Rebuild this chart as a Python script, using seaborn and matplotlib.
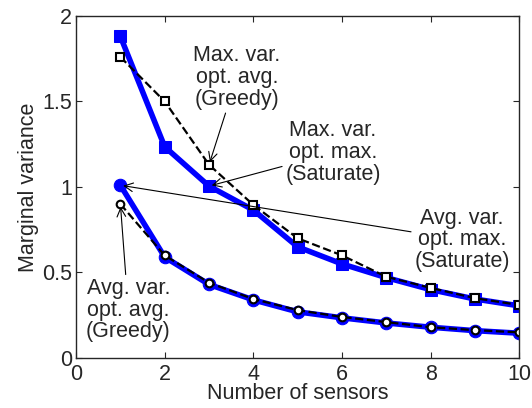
import numpy as np
import pandas as pd
import matplotlib
matplotlib.use('Agg')
import matplotlib.pyplot as plt
import seaborn as sns

# data
sensors = [1, 2, 3, 4, 5, 6, 7, 8, 9, 10]
max_sat = [1.88, 1.235, 1.005, 0.865, 0.65, 0.55, 0.47, 0.40, 0.345, 0.305]
max_greedy = [1.76, 1.50, 1.13, 0.895, 0.70, 0.60, 0.475, 0.41, 0.35, 0.31]
avg_sat = [1.01, 0.59, 0.43, 0.34, 0.27, 0.235, 0.205, 0.18, 0.16, 0.145]
avg_greedy = [0.90, 0.60, 0.44, 0.345, 0.28, 0.24, 0.21, 0.18, 0.163, 0.15]

sns.set_style('ticks')
plt.rcParams['font.family'] = ['Liberation Sans', 'DejaVu Sans']
plt.rcParams['xtick.direction'] = 'in'
plt.rcParams['ytick.direction'] = 'in'

fs = 15.5
fig = plt.figure(figsize=(5.32, 4.08), dpi=100)
ax = fig.add_axes([0.143, 0.1225, 0.833, 0.8385])

blue = (0, 0, 1)
sns.lineplot(x=sensors, y=max_sat, ax=ax, color=blue, linewidth=4, marker='s',
             markersize=9, markeredgecolor=blue, markerfacecolor=blue)
sns.lineplot(x=sensors, y=avg_sat, ax=ax, color=blue, linewidth=4, marker='o',
             markersize=9, markeredgecolor=blue, markerfacecolor=blue)
sns.lineplot(x=sensors, y=max_greedy, ax=ax, color='black', linewidth=1.6, linestyle='--',
             marker='s', markersize=5.5, markeredgecolor='black', markerfacecolor='white',
             markeredgewidth=1.5)
sns.lineplot(x=sensors, y=avg_greedy, ax=ax, color='black', linewidth=1.6, linestyle='--',
             marker='o', markersize=5.5, markeredgecolor='black', markerfacecolor='white',
             markeredgewidth=1.5)

ax.set_xlim(0, 10)
ax.set_ylim(0, 2)
ax.set_xticks([0, 2, 4, 6, 8, 10])
ax.set_yticks([0, 0.5, 1, 1.5, 2])
ax.set_yticklabels(['0', '0.5', '1', '1.5', '2'])
ax.tick_params(axis='both', labelsize=fs, top=True, right=True, length=4, width=0.8)
ax.tick_params(axis='x', pad=4)
ax.tick_params(axis='y', pad=3)
for s in ax.spines.values():
    s.set_linewidth(1.0)
ax.set_xlabel('Number of sensors', fontsize=fs, labelpad=-1)
ax.set_ylabel('Marginal variance', fontsize=fs, labelpad=2)

arrow = dict(arrowstyle='->', color='black', lw=0.8, shrinkA=0, shrinkB=2)
txt = dict(fontsize=fs, ha='center', va='center', linespacing=1.05)
ax.annotate('Max. var.\nopt. avg.\n(Greedy)', xy=(3, max_greedy[2]), xytext=(3.63, 1.64),
            arrowprops=arrow, **txt)
ax.annotate('Max. var.\nopt. max.\n(Saturate)', xy=(3, max_sat[2]), xytext=(5.8, 1.2),
            arrowprops=arrow, **txt)
ax.annotate('Avg. var.\nopt. max.\n(Saturate)', xy=(1, avg_sat[0]), xytext=(8.71, 0.69),
            arrowprops=arrow, **txt)
ax.annotate('Avg. var.\nopt. avg.\n(Greedy)', xy=(1, avg_greedy[0]), xytext=(1.18, 0.28),
            arrowprops=arrow, **txt)

fig.savefig('out.png', dpi=100)
